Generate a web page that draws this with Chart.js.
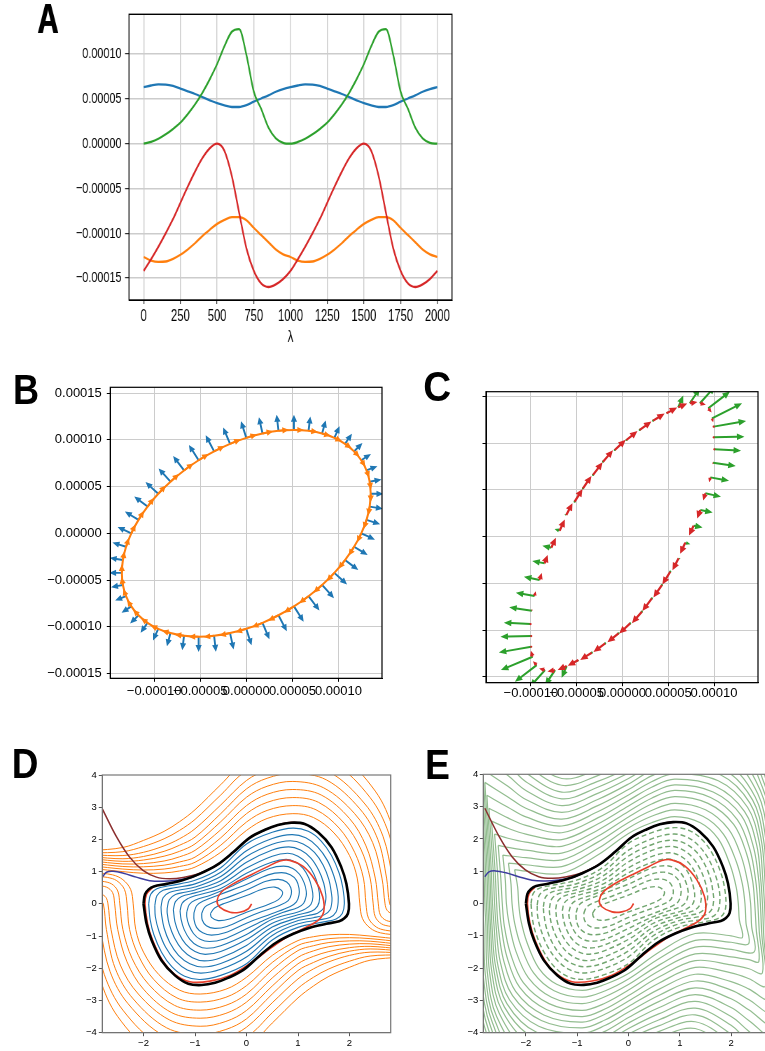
<!DOCTYPE html>
<html>
<head>
<meta charset="utf-8">
<script src="https://cdn.jsdelivr.net/npm/chart.js@4.4.1/dist/chart.umd.min.js"></script>
<style>
html, body { margin: 0; padding: 0; background: #fff; }
body { width: 765px; height: 1051px; overflow: hidden; position: relative; }
canvas { position: absolute; }
#cA { left: 0; top: 0; transform: scaleX(0.7); transform-origin: 0 0; }
#cB { left: 0; top: 360px; }
#cC { left: 380px; top: 360px; }
#cD { left: 0; top: 730px; }
#cE { left: 400px; top: 730px; }
</style>
</head>
<body>
<canvas id="cA" width="1093" height="360"></canvas>
<canvas id="cB" width="400" height="340"></canvas>
<canvas id="cC" width="385" height="340"></canvas>
<canvas id="cD" width="400" height="321"></canvas>
<canvas id="cE" width="420" height="321"></canvas>
<script>
// ---------- panel A : values in units of 1e-5 ----------
const lambdaVals = [0,50,100,150,200,250,300,350,400,450,500,550,600,650,700,750,800,850,900,950,1000,
  1050,1100,1150,1200,1250,1300,1350,1400,1450,1500,1550,1600,1650,1700,1750,1800,1850,1900,1950,2000];
const aBlue = [6.32,6.5,6.62,6.6,6.45,6.15,5.85,5.55,5.2,4.85,4.52,4.28,4.1,4.1,4.3,4.7,5.05,5.4,5.8,6.1,6.32,
  6.5,6.62,6.6,6.45,6.15,5.85,5.55,5.2,4.85,4.52,4.28,4.1,4.1,4.3,4.7,5.05,5.4,5.8,6.1,6.32];
const aGreen = [0,0.2,0.55,1.05,1.65,2.35,3.3,4.4,5.7,7.2,8.9,10.9,12.5,12.8,9.9,5.8,3.9,1.8,0.6,0.1,0,
  0.2,0.55,1.05,1.65,2.35,3.3,4.4,5.7,7.2,8.9,10.9,12.5,12.8,9.9,5.8,3.9,1.8,0.6,0.1,0];
const aRed = [-14.2,-12.9,-11.5,-10.0,-8.4,-6.6,-4.8,-3.1,-1.6,-0.5,0,-0.8,-3.6,-7.7,-11.7,-14.2,-15.6,-16.0,-15.7,-15.1,-14.2,
  -12.9,-11.5,-10.0,-8.4,-6.6,-4.8,-3.1,-1.6,-0.5,0,-0.8,-3.6,-7.7,-11.7,-14.2,-15.6,-16.0,-15.7,-15.1,-14.2];
const aOrange = [-12.65,-13.05,-13.2,-13.15,-12.85,-12.4,-11.8,-11.1,-10.3,-9.6,-8.95,-8.5,-8.2,-8.2,-8.55,-9.4,-10.2,-11.0,-11.8,-12.35,-12.65,
  -13.05,-13.2,-13.15,-12.85,-12.4,-11.8,-11.1,-10.3,-9.6,-8.95,-8.5,-8.2,-8.2,-8.55,-9.4,-10.2,-11.0,-11.8,-12.35,-12.65];
const aXTicks = [0,250,500,750,1000,1250,1500,1750,2000];
const aYTicks = [-15,-10,-5,0,5,10];

// ---------- panels B, C : units of 1e-5 ----------
const bcTicksX = [-10,-5,0,5,10];
const bcTicksY = [-15,-10,-5,0,5,10,15];
const ellX = [13.5,13.38,13.04,12.47,11.69,10.71,9.55,8.22,6.75,5.17,3.49,1.76,0,-1.76,-3.49,-5.17,-6.75,-8.22,-9.55,-10.71,-11.69,-12.47,-13.04,-13.38,
  -13.5,-13.38,-13.04,-12.47,-11.69,-10.71,-9.55,-8.22,-6.75,-5.17,-3.49,-1.76,0,1.76,3.49,5.17,6.75,8.22,9.55,10.71,11.69,12.47,13.04,13.38];
const ellY = [4.23,2.86,1.44,0,-1.44,-2.86,-4.23,-5.53,-6.73,-7.82,-8.77,-9.58,-10.22,-10.68,-10.97,-11.06,-10.97,-10.68,-10.22,-9.58,-8.77,-7.82,-6.73,-5.53,
  -4.23,-2.86,-1.44,0,1.44,2.86,4.23,5.53,6.73,7.82,8.77,9.58,10.22,10.68,10.97,11.06,10.97,10.68,10.22,9.58,8.77,7.82,6.73,5.53];

const cTailX = [9.78,9.96,9.96,10.03,9.89,9.6,9.05,8.5,7.77,6.86,6.13,5.22,4.31,3.21,2.12,0.84,-0.43,-1.89,-3.35,-4.81,-6.09,-7.36,-8.46,-9.37,
  -9.81,-9.96,-9.96,-10.03,-9.89,-9.6,-9.05,-8.5,-7.77,-6.86,-6.13,-5.22,-4.31,-3.21,-2.12,-0.84,0.43,1.89,3.35,4.81,6.09,7.36,8.46,9.37];
const cTailY = [12.67,11.78,10.64,9.35,7.92,6.35,4.64,2.85,1.18,-0.64,-2.32,-3.75,-5.18,-6.61,-8.03,-9.28,-10.35,-11.43,-12.42,-13.21,-13.85,-14.28,-14.28,-13.75,
  -12.85,-11.78,-10.64,-9.35,-7.92,-6.35,-4.64,-2.85,-1.18,0.64,2.32,3.75,5.18,6.61,8.03,9.28,10.35,11.43,12.42,13.21,13.85,14.28,14.28,13.75];
const cGreenX = [3.28,3.54,3.36,2.92,2.48,2.04,1.71,1.35,0.98,0.55,0.22,0.07,0,0,0,0,0,0,0,-0.18,-0.55,-1.09,-1.64,-2.37,
  -3.46,-3.54,-3.36,-2.92,-2.48,-2.04,-1.71,-1.35,-0.98,-0.55,-0.22,-0.07,0,0,0,0,0,0,0,0.18,0.55,1.09,1.64,2.37];
const cGreenY = [1.61,0.61,0.07,-0.14,-0.36,-0.36,-0.36,-0.25,-0.21,-0.18,-0.07,0,0,0,0,0,0,0,0,-0.18,-1.25,-1.61,-1.79,-1.79,
  -1.43,-0.61,-0.07,0.14,0.36,0.36,0.36,0.25,0.21,0.18,0.07,0,0,0,0,0,0,0,0,0.18,1.25,1.61,1.79,1.79];
const cRedLen = [0.4,0.11,0.11,0.11,0.16,0.47,0.7,0.85,1.04,1.17,1.27,1.42,1.42,1.5,1.44,1.42,1.35,1.37,1.29,1.15,0.93,0.73,0.58,0.51,
  0.58,0.11,0.11,0.11,0.16,0.47,0.7,0.85,1.04,1.17,1.27,1.42,1.42,1.5,1.44,1.42,1.35,1.37,1.29,1.15,0.93,0.73,0.58,0.51];

// ---------- panels D, E ----------
const deTicksX = [-2,-1,0,1,2];
const deTicksY = [-4,-3,-2,-1,0,1,2,3,4];
const limitCycle = [-2.0,0.0,-1.97,0.3,-1.9,0.45,-1.8,0.54,-1.55,0.62,-1.23,0.74,-0.91,0.93,-0.58,1.2,-0.26,1.6,0.06,2.05,0.36,2.3,0.61,2.45,0.87,2.52,
  1.13,2.48,1.39,2.22,1.65,1.76,1.84,1.14,1.94,0.62,1.99,0.0,1.97,-0.3,1.9,-0.45,1.8,-0.54,1.55,-0.62,1.23,-0.74,0.91,-0.93,0.58,-1.2,0.26,-1.6,
  -0.06,-2.05,-0.36,-2.3,-0.61,-2.45,-0.87,-2.52,-1.13,-2.48,-1.39,-2.22,-1.65,-1.76,-1.84,-1.14,-1.94,-0.62,-2.0,0.0];
const spiralTraj = [0.1,0,0.03,-0.16,-0.13,-0.26,-0.32,-0.26,-0.52,-0.1,-0.57,0.1,-0.49,0.36,-0.26,0.62,0.06,0.88,0.39,1.14,0.65,1.33,0.84,1.35,
  1.1,1.16,1.33,0.74,1.48,0.22,1.5,-0.25,1.4,-0.5,1.17,-0.72,0.84,-0.98,0.45,-1.4,0.06,-1.86,-0.32,-2.22,-0.71,-2.4,-1.1,-2.42,-1.4,-2.18,
  -1.63,-1.76,-1.82,-1.14,-1.92,-0.62,-1.97,0,-1.94,0.3,-1.83,0.5];
const brownTraj = [-2.8,2.95,-2.52,2.07,-2.27,1.45,-2.01,1.04,-1.75,0.83,-1.49,0.78,-1.23,0.82,-0.91,0.95,-0.58,1.2,-0.26,1.6,0.06,2.05,0.36,2.3,0.61,2.45,0.87,2.53,1.13,2.49];
const navyTraj = [-2.8,0.83,-2.72,0.98,-2.59,1.01,-2.39,0.95,-2.14,0.83,-1.88,0.72,-1.62,0.7,-1.36,0.73,-1.1,0.8,-0.91,0.93,-0.58,1.19];

// inner level curves (blue in D, dashed in E)
const innerLevels = [
  [-1.9,0,-1.86,0.3,-1.74,0.47,-1.5,0.56,-1.0,0.73,-0.5,1.12,0,1.86,0.5,2.22,0.9,2.35,1.2,2.25,1.45,1.95,1.65,1.5,1.8,0.95,1.87,0.5,1.9,0,
   1.86,-0.3,1.74,-0.47,1.5,-0.56,1.0,-0.73,0.5,-1.12,0,-1.86,-0.5,-2.22,-0.9,-2.35,-1.2,-2.25,-1.45,-1.95,-1.65,-1.5,-1.8,-0.95,-1.87,-0.5,-1.9,0],
  [-1.78,-0.05,-1.74,0.25,-1.62,0.42,-1.4,0.5,-1.0,0.62,-0.5,0.98,0,1.65,0.5,2.03,0.88,2.15,1.15,2.05,1.38,1.77,1.57,1.35,1.7,0.85,1.77,0.4,1.78,0.05,
   1.74,-0.25,1.62,-0.42,1.4,-0.5,1.0,-0.62,0.5,-0.98,0,-1.65,-0.5,-2.03,-0.88,-2.15,-1.15,-2.05,-1.38,-1.77,-1.57,-1.35,-1.7,-0.85,-1.77,-0.4,-1.78,-0.05],
  [-1.66,-0.1,-1.62,0.19,-1.5,0.35,-1.3,0.43,-1.0,0.52,-0.5,0.85,0,1.47,0.5,1.85,0.85,1.96,1.1,1.86,1.32,1.6,1.49,1.2,1.6,0.75,1.65,0.32,1.66,0.1,
   1.62,-0.19,1.5,-0.35,1.3,-0.43,1.0,-0.52,0.5,-0.85,0,-1.47,-0.5,-1.85,-0.85,-1.96,-1.1,-1.86,-1.32,-1.6,-1.49,-1.2,-1.6,-0.75,-1.65,-0.32,-1.66,-0.1],
  [-1.54,-0.14,-1.5,0.13,-1.38,0.29,-1.2,0.36,-1.0,0.43,-0.5,0.72,0,1.29,0.5,1.67,0.82,1.77,1.05,1.67,1.25,1.42,1.4,1.05,1.5,0.64,1.54,0.28,1.54,0.14,
   1.5,-0.13,1.38,-0.29,1.2,-0.36,1.0,-0.43,0.5,-0.72,0,-1.29,-0.5,-1.67,-0.82,-1.77,-1.05,-1.67,-1.25,-1.42,-1.4,-1.05,-1.5,-0.64,-1.54,-0.28,-1.54,-0.14],
  [-1.42,-0.18,-1.38,0.07,-1.26,0.23,-1.0,0.34,-0.5,0.6,0,1.11,0.5,1.48,0.8,1.57,1.0,1.48,1.18,1.25,1.31,0.92,1.39,0.55,1.42,0.18,
   1.38,-0.07,1.26,-0.23,1.0,-0.34,0.5,-0.6,0,-1.11,-0.5,-1.48,-0.8,-1.57,-1.0,-1.48,-1.18,-1.25,-1.31,-0.92,-1.39,-0.55,-1.42,-0.18],
  [-1.29,-0.22,-1.25,0.02,-1.13,0.17,-1.0,0.25,-0.5,0.48,0,0.95,0.5,1.3,0.77,1.38,0.95,1.3,1.1,1.1,1.21,0.8,1.27,0.48,1.29,0.22,
   1.25,-0.02,1.13,-0.17,1.0,-0.25,0.5,-0.48,0,-0.95,-0.5,-1.3,-0.77,-1.38,-0.95,-1.3,-1.1,-1.1,-1.21,-0.8,-1.27,-0.48,-1.29,-0.22],
  [-1.16,-0.25,-1.11,-0.02,-1.0,0.11,-0.7,0.27,-0.35,0.5,0,0.77,0.45,1.1,0.72,1.17,0.9,1.1,1.03,0.92,1.12,0.65,1.16,0.4,1.16,0.25,
   1.11,0.02,1.0,-0.11,0.7,-0.27,0.35,-0.5,0,-0.77,-0.45,-1.1,-0.72,-1.17,-0.9,-1.1,-1.03,-0.92,-1.12,-0.65,-1.16,-0.4,-1.16,-0.25],
  [-1.02,-0.28,-0.97,-0.06,-0.85,0.08,-0.5,0.3,0,0.6,0.42,0.9,0.68,0.97,0.85,0.9,0.97,0.73,1.02,0.48,1.02,0.28,
   0.97,0.06,0.85,-0.08,0.5,-0.3,0,-0.6,-0.42,-0.9,-0.68,-0.97,-0.85,-0.9,-0.97,-0.73,-1.02,-0.48,-1.02,-0.28],
  [-0.87,-0.3,-0.81,-0.1,-0.65,0.04,-0.3,0.24,0,0.43,0.38,0.7,0.62,0.76,0.78,0.68,0.86,0.5,0.87,0.3,
   0.81,0.1,0.65,-0.04,0.3,-0.24,0,-0.43,-0.38,-0.7,-0.62,-0.76,-0.78,-0.68,-0.86,-0.5,-0.87,-0.3],
  [-0.7,-0.3,-0.62,-0.13,-0.42,0.02,0,0.26,0.33,0.47,0.55,0.52,0.68,0.42,0.7,0.3,
   0.62,0.13,0.42,-0.02,0,-0.26,-0.33,-0.47,-0.55,-0.52,-0.68,-0.42,-0.7,-0.3]
];

// outer level curves of D (orange), upper and lower parts
const dOuterLevels = [
  [-3,1.1,-2.4,1.0,-2.0,0.95,-1.6,0.96,-1.3,1.02,-1.0,1.14,-0.5,1.6,0,2.28,0.4,2.65,0.9,2.8,1.3,2.68,1.7,2.2,2.0,1.5,2.15,0.8,2.2,0,2.25,-0.45,2.4,-0.75,2.6,-0.9,3,-0.98],
  [3,-1.1,2.4,-1.0,2.0,-0.95,1.6,-0.96,1.3,-1.02,1.0,-1.14,0.5,-1.6,0,-2.28,-0.4,-2.65,-0.9,-2.8,-1.3,-2.68,-1.7,-2.2,-2.0,-1.5,-2.15,-0.8,-2.2,0,-2.25,0.45,-2.4,0.75,-2.6,0.9,-3,0.98],
  [-3,1.18,-2.4,1.08,-2.0,1.05,-1.6,1.08,-1.3,1.16,-1.0,1.29,-0.5,1.82,0,2.54,0.4,2.9,0.9,3.05,1.35,2.92,1.8,2.35,2.1,1.6,2.27,0.8,2.32,0,2.37,-0.45,2.52,-0.72,2.7,-0.82,3,-0.88],
  [3,-1.18,2.4,-1.08,2.0,-1.05,1.6,-1.08,1.3,-1.16,1.0,-1.29,0.5,-1.82,0,-2.54,-0.4,-2.9,-0.9,-3.05,-1.35,-2.92,-1.8,-2.35,-2.1,-1.6,-2.27,-0.8,-2.32,0,-2.37,0.45,-2.52,0.72,-2.7,0.82,-3,0.88],
  [-3,1.26,-2.4,1.16,-2.0,1.15,-1.6,1.2,-1.3,1.3,-1.0,1.45,-0.5,2.05,0,2.8,0.4,3.15,0.9,3.3,1.4,3.15,1.9,2.5,2.22,1.7,2.4,0.8,2.46,0,2.5,-0.4,2.62,-0.62,2.8,-0.7,3,-0.73],
  [3,-1.26,2.4,-1.16,2.0,-1.15,1.6,-1.2,1.3,-1.3,1.0,-1.45,0.5,-2.05,0,-2.8,-0.4,-3.15,-0.9,-3.3,-1.4,-3.15,-1.9,-2.5,-2.22,-1.7,-2.4,-0.8,-2.46,0,-2.5,0.4,-2.62,0.62,-2.8,0.7,-3,0.73],
  [-3,1.33,-2.4,1.24,-2.0,1.25,-1.6,1.33,-1.3,1.46,-1.0,1.66,-0.5,2.3,0,3.05,0.4,3.4,0.9,3.55,1.45,3.38,2.0,2.65,2.32,1.8,2.5,0.8,2.56,0,2.6,-0.35,2.72,-0.52,2.9,-0.56,3.1,-0.57],
  [3,-1.33,2.4,-1.24,2.0,-1.25,1.6,-1.33,1.3,-1.46,1.0,-1.66,0.5,-2.3,0,-3.05,-0.4,-3.4,-0.9,-3.55,-1.45,-3.38,-2.0,-2.65,-2.32,-1.8,-2.5,-0.8,-2.56,0,-2.6,0.35,-2.72,0.52,-2.9,0.56,-3.1,0.57],
  [-3,1.4,-2.4,1.32,-2.0,1.36,-1.6,1.48,-1.3,1.63,-1.0,1.86,-0.5,2.55,0,3.31,0.4,3.65,0.9,3.8,1.5,3.6,2.1,2.8,2.45,1.9,2.63,0.8,2.69,0,2.73,-0.2,2.82,-0.3,3.0,-0.33],
  [3,-1.4,2.4,-1.32,2.0,-1.36,1.6,-1.48,1.3,-1.63,1.0,-1.86,0.5,-2.55,0,-3.31,-0.4,-3.65,-0.9,-3.8,-1.5,-3.6,-2.1,-2.8,-2.45,-1.9,-2.63,-0.8,-2.69,0,-2.73,0.2,-2.82,0.3,-3.0,0.33],
  [-3,1.46,-2.4,1.4,-2.0,1.47,-1.6,1.63,-1.3,1.82,-1.0,2.07,-0.5,2.8,0,3.57,0.4,3.9,0.9,4.05,1.55,3.85,2.2,2.95,2.55,2.0,2.72,0.8,2.78,0,2.85,-0.1,3.0,-0.15],
  [3,-1.46,2.4,-1.4,2.0,-1.47,1.6,-1.63,1.3,-1.82,1.0,-2.07,0.5,-2.8,0,-3.57,-0.4,-3.9,-0.9,-4.05,-1.55,-3.85,-2.2,-2.95,-2.55,-2.0,-2.72,-0.8,-2.78,0,-2.85,0.1,-3.0,0.15],
  [-3,1.52,-2.4,1.5,-2.0,1.6,-1.6,1.8,-1.3,2.02,-1.0,2.33,-0.5,3.07,0,3.83,0.4,4.15,0.9,4.3,1.6,4.1,2.3,3.1,2.65,2.1,2.84,0.8,2.95,0,3.1,-0.2],
  [3,-1.52,2.4,-1.5,2.0,-1.6,1.6,-1.8,1.3,-2.02,1.0,-2.33,0.5,-3.07,0,-3.83,-0.4,-4.15,-0.9,-4.3,-1.6,-4.1,-2.3,-3.1,-2.65,-2.1,-2.84,-0.8,-2.95,0,-3.1,0.2],
  [-3,1.58,-2.4,1.62,-2.0,1.78,-1.6,2.02,-1.3,2.28,-1.0,2.62,-0.5,3.38,0,4.12,0.9,4.6,1.7,4.35,2.4,3.3,2.76,2.2,2.96,0.8,3.05,0],
  [3,-1.58,2.4,-1.62,2.0,-1.78,1.6,-2.02,1.3,-2.28,1.0,-2.62,0.5,-3.38,0,-4.12,-0.9,-4.6,-1.7,-4.35,-2.4,-3.3,-2.76,-2.2,-2.96,-0.8,-3.05,0],
  [-3,1.65,-2.4,1.75,-2.0,1.97,-1.6,2.25,-1.3,2.55,-1.0,2.92,-0.5,3.7,0,4.45,0.9,4.9,1.8,4.6,2.5,3.5,2.85,2.3,3.05,0.8],
  [3,-1.65,2.4,-1.75,2.0,-1.97,1.6,-2.25,1.3,-2.55,1.0,-2.92,0.5,-3.7,0,-4.45,-0.9,-4.9,-1.8,-4.6,-2.5,-3.5,-2.85,-2.3,-3.05,-0.8]
];

// outer level curves of E (solid green), closed loops
const eOuterLevels = [
  [-2.22,1.05,-2.0,1.0,-1.3,0.93,-0.6,1.5,0,2.17,0.45,2.5,0.9,2.69,1.4,2.5,1.75,2.0,1.98,1.2,2.1,0.5,2.14,0,2.16,-0.5,2.22,-1.05,
   2.0,-1.0,1.3,-0.93,0.6,-1.5,0,-2.17,-0.45,-2.5,-0.9,-2.69,-1.4,-2.5,-1.75,-2.0,-1.98,-1.2,-2.1,-0.5,-2.14,0,-2.16,0.5,-2.22,1.05],
  [-2.34,1.25,-2.0,1.2,-1.3,1.14,-0.6,1.7,0,2.34,0.45,2.7,0.9,2.9,1.45,2.7,1.85,2.15,2.1,1.3,2.22,0.6,2.27,0,2.29,-0.6,2.34,-1.25,
   2.0,-1.2,1.3,-1.14,0.6,-1.7,0,-2.34,-0.45,-2.7,-0.9,-2.9,-1.45,-2.7,-1.85,-2.15,-2.1,-1.3,-2.22,-0.6,-2.27,0,-2.29,0.6,-2.34,1.25],
  [-2.45,1.5,-2.0,1.42,-1.3,1.35,-0.6,1.9,0,2.51,0.45,2.88,0.9,3.1,1.5,2.9,1.95,2.3,2.2,1.45,2.33,0.6,2.38,0,2.4,-0.7,2.45,-1.5,
   2.0,-1.42,1.3,-1.35,0.6,-1.9,0,-2.51,-0.45,-2.88,-0.9,-3.1,-1.5,-2.9,-1.95,-2.3,-2.2,-1.45,-2.33,-0.6,-2.38,0,-2.4,0.7,-2.45,1.5],
  [-2.54,1.8,-2.35,1.74,-2.0,1.65,-1.3,1.56,-0.6,2.08,0,2.68,0.45,3.08,0.9,3.31,1.55,3.1,2.05,2.45,2.3,1.55,2.42,0.7,2.46,0,2.49,-0.8,2.54,-1.8,
   2.35,-1.74,2.0,-1.65,1.3,-1.56,0.6,-2.08,0,-2.68,-0.45,-3.08,-0.9,-3.31,-1.55,-3.1,-2.05,-2.45,-2.3,-1.55,-2.42,-0.7,-2.46,0,-2.49,0.8,-2.54,1.8],
  [-2.61,2.15,-2.35,2.02,-2.0,1.9,-1.3,1.77,-0.6,2.27,0,2.85,0.45,3.26,0.9,3.5,1.6,3.28,2.12,2.6,2.37,1.65,2.48,0.7,2.52,0,2.55,-0.9,2.61,-2.15,
   2.35,-2.02,2.0,-1.9,1.3,-1.77,0.6,-2.27,0,-2.85,-0.45,-3.26,-0.9,-3.5,-1.6,-3.28,-2.12,-2.6,-2.37,-1.65,-2.48,-0.7,-2.52,0,-2.55,0.9,-2.61,2.15],
  [-2.67,2.55,-2.35,2.33,-2.0,2.15,-1.3,1.98,-0.6,2.46,0,3.02,0.45,3.42,0.9,3.67,1.65,3.45,2.2,2.72,2.44,1.72,2.54,0.7,2.57,0,2.6,-1.0,2.67,-2.55,
   2.35,-2.33,2.0,-2.15,1.3,-1.98,0.6,-2.46,0,-3.02,-0.45,-3.42,-0.9,-3.67,-1.65,-3.45,-2.2,-2.72,-2.44,-1.72,-2.54,-0.7,-2.57,0,-2.6,1.0,-2.67,2.55],
  [-2.72,2.95,-2.35,2.65,-2.0,2.42,-1.3,2.19,-0.6,2.65,0,3.19,0.45,3.6,0.9,3.85,1.7,3.62,2.26,2.85,2.5,1.8,2.58,0.7,2.61,0,2.64,-1.1,2.72,-2.95,
   2.35,-2.65,2.0,-2.42,1.3,-2.19,0.6,-2.65,0,-3.19,-0.45,-3.6,-0.9,-3.85,-1.7,-3.62,-2.26,-2.85,-2.5,-1.8,-2.58,-0.7,-2.61,0,-2.64,1.1,-2.72,2.95],
  [-2.76,3.35,-2.35,2.98,-2.0,2.68,-1.3,2.4,-0.6,2.84,0,3.36,0.45,3.77,0.9,4.02,1.75,3.8,2.32,2.98,2.55,1.88,2.62,0.7,2.65,0,2.68,-1.2,2.76,-3.35,
   2.35,-2.98,2.0,-2.68,1.3,-2.4,0.6,-2.84,0,-3.36,-0.45,-3.77,-0.9,-4.02,-1.75,-3.8,-2.32,-2.98,-2.55,-1.88,-2.62,-0.7,-2.65,0,-2.68,1.2,-2.76,3.35],
  [-2.8,3.75,-2.35,3.3,-2.0,2.95,-1.3,2.61,-0.6,3.03,0,3.53,0.45,3.95,0.9,4.2,1.8,3.98,2.37,3.1,2.59,1.95,2.66,0.7,2.68,0,2.71,-1.3,2.8,-3.75,
   2.35,-3.3,2.0,-2.95,1.3,-2.61,0.6,-3.03,0,-3.53,-0.45,-3.95,-0.9,-4.2,-1.8,-3.98,-2.37,-3.1,-2.59,-1.95,-2.66,-0.7,-2.68,0,-2.71,1.3,-2.8,3.75],
  [-2.84,4.15,-2.35,3.63,-2.0,3.22,-1.3,2.82,-0.6,3.22,0,3.7,0.45,4.13,0.9,4.4,1.85,4.15,2.42,3.2,2.63,2.0,2.69,0.7,2.71,0,2.74,-1.4,2.84,-4.15,
   2.35,-3.63,2.0,-3.22,1.3,-2.82,0.6,-3.22,0,-3.7,-0.45,-4.13,-0.9,-4.4,-1.85,-4.15,-2.42,-3.2,-2.63,-2.0,-2.69,-0.7,-2.71,0,-2.74,1.4,-2.84,4.15],
  [-2.88,4.55,-2.35,3.96,-2.0,3.5,-1.3,3.03,-0.6,3.41,0,3.87,0.45,4.3,0.9,4.6,1.9,4.35,2.47,3.3,2.67,2.05,2.72,0.7,2.74,0,2.77,-1.5,2.88,-4.55,
   2.35,-3.96,2.0,-3.5,1.3,-3.03,0.6,-3.41,0,-3.87,-0.45,-4.3,-0.9,-4.6,-1.9,-4.35,-2.47,-3.3,-2.67,-2.05,-2.72,-0.7,-2.74,0,-2.77,1.5,-2.88,4.55],
  [-2.92,4.95,-2.35,4.3,-2.0,3.77,-1.3,3.24,-0.6,3.6,0,4.04,0.9,4.8,1.95,4.55,2.52,3.4,2.71,2.1,2.75,0.7,2.77,0,2.8,-1.6,2.92,-4.95,
   2.35,-4.3,2.0,-3.77,1.3,-3.24,0.6,-3.6,0,-4.04,-0.9,-4.8,-1.95,-4.55,-2.52,-3.4,-2.71,-2.1,-2.75,-0.7,-2.77,0,-2.8,1.6,-2.92,4.95],
  [-2.96,5.35,-2.35,4.62,-2.0,4.05,-1.3,3.45,-0.6,3.78,0,4.2,0.9,5.0,2.0,4.75,2.57,3.5,2.75,2.15,2.78,0.7,2.8,0,2.83,-1.7,2.96,-5.35,
   2.35,-4.62,2.0,-4.05,1.3,-3.45,0.6,-3.78,0,-4.2,-0.9,-5.0,-2.0,-4.75,-2.57,-3.5,-2.75,-2.15,-2.78,-0.7,-2.8,0,-2.83,1.7,-2.96,5.35],
  [-3.0,5.75,-2.35,4.95,-2.0,4.32,-1.3,3.66,-0.6,3.96,0,4.4,2.05,4.95,2.61,3.6,2.79,2.2,2.82,0.7,2.84,0,2.87,-1.8,3.0,-5.75,
   2.35,-4.95,2.0,-4.32,1.3,-3.66,0.6,-3.96,0,-4.4,-2.05,-4.95,-2.61,-3.6,-2.79,-2.2,-2.82,-0.7,-2.84,0,-2.87,1.8,-3.0,5.75],
  [-3.04,6.15,-2.35,5.3,-2.0,4.6,-1.3,3.87,-0.6,4.15,0,4.6,2.1,5.15,2.65,3.7,2.83,2.25,2.86,0.7,2.88,0,2.91,-1.9,3.04,-6.15,
   2.35,-5.3,2.0,-4.6,1.3,-3.87,0.6,-4.15,0,-4.6,-2.1,-5.15,-2.65,-3.7,-2.83,-2.25,-2.86,-0.7,-2.88,0,-2.91,1.9,-3.04,6.15],
  [-3.08,6.55,-2.35,5.65,-2.0,4.9,-1.3,4.08,0,4.8,2.15,5.35,2.69,3.8,2.87,2.3,2.9,0.7,2.92,0,2.95,-2.0,3.08,-6.55,
   2.35,-5.65,2.0,-4.9,1.3,-4.08,0,-4.8,-2.15,-5.35,-2.69,-3.8,-2.87,-2.3,-2.9,-0.7,-2.92,0,-2.95,2.0,-3.08,6.55],
  [-3.12,6.95,-2.0,5.2,-1.3,4.3,0,5.0,2.2,5.55,2.73,3.9,2.91,2.35,2.94,0.7,2.96,0,2.99,-2.1,3.12,-6.95,
   2.0,-5.2,1.3,-4.3,0,-5.0,-2.2,-5.55,-2.73,-3.9,-2.91,-2.35,-2.94,-0.7,-2.96,0,-2.99,2.1,-3.12,6.95],
  [-3.16,7.35,-2.0,5.5,-1.3,4.5,0,5.2,2.25,5.75,2.77,4.0,2.95,2.4,2.98,0.7,3.0,0,3.03,-2.2,3.16,-7.35,
   2.0,-5.5,1.3,-4.5,0,-5.2,-2.25,-5.75,-2.77,-4.0,-2.95,-2.4,-2.98,-0.7,-3.0,0,-3.03,2.2,-3.16,7.35]
];

const FONT = '"Liberation Sans", Arial, Helvetica, sans-serif';
const GRID = '#cccccc';

function pts(flat) {
  const out = [];
  for (let i = 0; i < flat.length; i += 2) out.push({ x: flat[i], y: flat[i + 1] });
  return out;
}
function curve(flat, color, width, dash) {
  return { data: pts(flat), showLine: true, borderColor: color, borderWidth: width,
    borderDash: dash || [], pointRadius: 0, tension: 0.35, fill: false };
}
const fmt5 = v => (v * 1e-5).toFixed(5).replace('-', '\u2212');
const fmtInt = v => String(v).replace('-', '\u2212');

function axis(o) {
  return {
    type: 'linear', position: o.pos, min: o.min, max: o.max,
    afterBuildTicks: s => { s.ticks = o.ticks.map(v => ({ value: v })); },
    afterFit: s => { if (o.pos === 'left') s.width = o.size; else s.height = o.size; },
    grid: { drawOnChartArea: !!o.grid, color: GRID, lineWidth: o.gridW || 1,
      drawTicks: true, tickLength: o.tl, tickColor: o.tc || '#000', tickWidth: 1 },
    border: { display: true, color: o.tc || '#000', width: 1 },
    ticks: { autoSkip: false, maxRotation: 0, minRotation: 0, padding: o.pad, color: '#000',
      font: { family: FONT, size: o.fs }, callback: o.fmt }
  };
}

function arrow(ctx, x0, y0, dx, dy, color, sw, hw, hl) {
  const L = Math.hypot(dx, dy);
  ctx.fillStyle = color;
  if (L < 1.5) {
    ctx.beginPath(); ctx.arc(x0, y0, 1.1, 0, Math.PI * 2); ctx.fill(); return;
  }
  const ux = dx / L, uy = dy / L, px = -uy, py = ux;
  const k = Math.min(1, L / (hl * 1.2));
  const h = hl * k, w = hw * k, s = sw * Math.max(k, 0.6);
  const bx = x0 + ux * (L - h), by = y0 + uy * (L - h);
  ctx.beginPath();
  ctx.moveTo(x0 + px * s / 2, y0 + py * s / 2);
  ctx.lineTo(bx + px * s / 2, by + py * s / 2);
  ctx.lineTo(bx + px * w / 2, by + py * w / 2);
  ctx.lineTo(x0 + dx, y0 + dy);
  ctx.lineTo(bx - px * w / 2, by - py * w / 2);
  ctx.lineTo(bx - px * s / 2, by - py * s / 2);
  ctx.lineTo(x0 - px * s / 2, y0 - py * s / 2);
  ctx.closePath();
  ctx.fill();
}

function deco(cfg) {
  return {
    id: 'deco',
    beforeDatasetsDraw(chart) { if (cfg.under) cfg.under(chart); },
    afterDatasetsDraw(chart) { if (cfg.over) cfg.over(chart); },
    afterDraw(chart) {
      const a = chart.chartArea, ctx = chart.ctx;
      ctx.save();
      ctx.strokeStyle = cfg.spine; ctx.lineWidth = cfg.spineW;
      ctx.strokeRect(a.left, a.top, a.right - a.left, a.bottom - a.top);
      ctx.restore();
      ctx.save();
      ctx.fillStyle = '#000';
      ctx.font = 'bold ' + cfg.lsize + 'px ' + FONT;
      ctx.textBaseline = 'alphabetic';
      ctx.translate(cfg.lx, cfg.ly); ctx.scale(cfg.lsx, 1);
      ctx.fillText(cfg.letter, 0, 0);
      if (cfg.bold) { ctx.fillText(cfg.letter, 1, 0); }
      ctx.restore();
      if (cfg.extra) cfg.extra(chart);
    }
  };
}

function clipArea(chart) {
  const a = chart.chartArea, ctx = chart.ctx;
  ctx.save(); ctx.beginPath(); ctx.rect(a.left, a.top, a.right - a.left, a.bottom - a.top); ctx.clip();
}

Chart.defaults.font.family = FONT;
const base = {
  responsive: false, animation: false, events: [],
  elements: { line: { capBezierPoints: false } },
  plugins: { legend: { display: false }, tooltip: { enabled: false } }
};

// ---------- A ----------
function seriesA(vals, color) {
  return { data: lambdaVals.map((x, i) => ({ x: x, y: vals[i] })), showLine: true, borderColor: color,
    borderWidth: 2.3, pointRadius: 0, cubicInterpolationMode: 'monotone', fill: false };
}
new Chart(document.getElementById('cA'), {
  type: 'scatter',
  data: { datasets: [seriesA(aRed, '#d62728'), seriesA(aOrange, '#ff7f0e'), seriesA(aGreen, '#2ca02c'), seriesA(aBlue, '#1f77b4')] },
  options: Object.assign({}, base, {
    layout: { padding: { left: 0, top: 12.3, right: 447.3, bottom: 0 } },
    scales: {
      x: axis({ pos: 'bottom', min: -100, max: 2100, ticks: aXTicks, size: 60, grid: true, gridW: 1.4, tl: 4, pad: 3, fs: 16, fmt: v => String(v) }),
      y: axis({ pos: 'left', min: -17.45, max: 14.45, ticks: aYTicks, size: 184.3, grid: true, gridW: 1.4, tl: 5.7, pad: 5, fs: 15.5, fmt: fmt5 })
    }
  }),
  plugins: [deco({ spine: '#000', spineW: 1.4, letter: 'A', lsize: 42, lx: 52.9, ly: 33, lsx: 1, bold: true,
    extra(chart) {
      const ctx = chart.ctx, a = chart.chartArea;
      ctx.save(); ctx.fillStyle = '#000'; ctx.font = '16px ' + FONT;
      ctx.textAlign = 'center'; ctx.textBaseline = 'middle';
      ctx.fillText('\u03bb', (a.left + a.right) / 2, 338);
      ctx.restore();
    } })]
});

// ---------- B ----------
function ellPixels(chart) {
  const xs = chart.scales.x, ys = chart.scales.y;
  return ellX.map((x, i) => [xs.getPixelForValue(x), ys.getPixelForValue(ellY[i])]);
}
new Chart(document.getElementById('cB'), {
  type: 'scatter',
  data: { datasets: [Object.assign(curve(ellX.flatMap((x, i) => [x, ellY[i]]).concat([ellX[0], ellY[0]]), '#ff7f0e', 2), { tension: 0.3 })] },
  options: Object.assign({}, base, {
    layout: { padding: { left: 0, top: 27.3, right: 18, bottom: 0 } },
    scales: {
      x: axis({ pos: 'bottom', min: -14.75, max: 14.72, ticks: bcTicksX, size: 21.7, grid: true, tl: 3.5, pad: 2, fs: 13, fmt: fmt5 }),
      y: axis({ pos: 'left', min: -15.52, max: 15.63, ticks: bcTicksY, size: 110.3, grid: true, tl: 3.5, pad: 5, fs: 13, fmt: fmt5 })
    }
  }),
  plugins: [deco({ spine: '#000', spineW: 1.2, letter: 'B', lsize: 43, lx: 13, ly: 44.3, lsx: 0.84,
    under(chart) {
      const P = ellPixels(chart), n = P.length, ctx = chart.ctx;
      clipArea(chart);
      for (let i = 0; i < n; i++) {
        const a = P[(i - 1 + n) % n], b = P[(i + 1) % n];
        const tx = (b[0] - a[0]) / 2, ty = (b[1] - a[1]) / 2;
        arrow(ctx, P[i][0], P[i][1], ty * 1.02, -tx * 1.02, '#1f77b4', 1.9, 6.2, 7);
      }
      ctx.restore();
    },
    over(chart) {
      const P = ellPixels(chart), n = P.length, ctx = chart.ctx;
      clipArea(chart);
      for (let i = 0; i < n; i++) {
        const a = P[(i - 1 + n) % n], b = P[(i + 1) % n];
        const tx = (b[0] - a[0]) / 2, ty = (b[1] - a[1]) / 2;
        arrow(ctx, P[i][0], P[i][1], tx * 0.66, ty * 0.66, '#ff7f0e', 1.9, 6.2, 6.5);
      }
      ctx.restore();
    } })]
});

// ---------- C ----------
new Chart(document.getElementById('cC'), {
  type: 'scatter',
  data: { datasets: [] },
  options: Object.assign({}, base, {
    layout: { padding: { left: 0, top: 31.7, right: 7, bottom: 0 } },
    scales: {
      x: axis({ pos: 'bottom', min: -14.9, max: 14.8, ticks: bcTicksX, size: 17.3, grid: true, tl: 3.5, pad: -1, fs: 13, fmt: fmt5 }),
      y: axis({ pos: 'left', min: -15.63, max: 15.52, ticks: bcTicksY, size: 106, grid: true, tl: 3.5, pad: 5, fs: 13, fmt: () => '' })
    }
  }),
  plugins: [deco({ spine: '#000', spineW: 1.2, letter: 'C', lsize: 43, lx: 43.3, ly: 41.2, lsx: 0.9,
    over(chart) {
      const xs = chart.scales.x, ys = chart.scales.y, ctx = chart.ctx, n = cTailX.length;
      const T = cTailX.map((x, i) => [xs.getPixelForValue(x), ys.getPixelForValue(cTailY[i])]);
      const pxUnit = xs.getPixelForValue(1) - xs.getPixelForValue(0);
      clipArea(chart);
      for (let i = 0; i < n; i++) {
        const gx = xs.getPixelForValue(cTailX[i] + cGreenX[i]) - T[i][0];
        const gy = ys.getPixelForValue(cTailY[i] + cGreenY[i]) - T[i][1];
        arrow(ctx, T[i][0], T[i][1], gx, gy, '#2ca02c', 2, 6.5, 7.5);
      }
      for (let i = 0; i < n; i++) {
        const a = T[(i - 1 + n) % n], b = T[(i + 1) % n];
        const dx = b[0] - a[0], dy = b[1] - a[1], d = Math.hypot(dx, dy) || 1;
        const L = cRedLen[i] * pxUnit * 1.15;
        arrow(ctx, T[i][0], T[i][1], dx / d * L, dy / d * L, '#d62728', 2.2, 6.8, 7.5);
      }
      ctx.restore();
    } })]
});

// ---------- D ----------
const dSets = [];
dOuterLevels.forEach(f => dSets.push(curve(f, '#ff7f0e', 1)));
innerLevels.forEach(f => dSets.push(curve(f, '#1f77b4', 1.1)));
dSets.push(curve(spiralTraj, '#e8402c', 1.6));
dSets.push(curve(brownTraj, '#8b2f2f', 1.5));
dSets.push(curve(navyTraj, '#3d3d9e', 1.5));
dSets.push(curve(limitCycle, '#000000', 2.6));
new Chart(document.getElementById('cD'), {
  type: 'scatter',
  data: { datasets: dSets.reverse() },
  options: Object.assign({}, base, {
    layout: { padding: { left: 0, top: 45, right: 9.3, bottom: 0 } },
    scales: {
      x: axis({ pos: 'bottom', min: -2.8, max: 2.8, ticks: deTicksX, size: 18.3, tl: 3.5, tc: '#555', pad: 1, fs: 9.5, fmt: fmtInt }),
      y: axis({ pos: 'left', min: -4, max: 4, ticks: deTicksY, size: 102.3, tl: 3.5, tc: '#555', pad: 2, fs: 9.5, fmt: fmtInt })
    }
  }),
  plugins: [deco({ spine: '#777', spineW: 1.2, letter: 'D', lsize: 42, lx: 11.7, ly: 48.3, lsx: 0.88 })]
});

// ---------- E ----------
const eSets = [];
eOuterLevels.forEach(f => eSets.push(curve(f, '#93bd90', 1.2)));
innerLevels.forEach(f => eSets.push(curve(f, '#72a670', 1.4, [5, 3])));
eSets.push(curve(spiralTraj, '#e8402c', 1.6));
eSets.push(curve(brownTraj, '#8b2f2f', 1.5));
eSets.push(curve(navyTraj, '#3d3d9e', 1.5));
eSets.push(curve(limitCycle, '#000000', 2.6));
new Chart(document.getElementById('cE'), {
  type: 'scatter',
  data: { datasets: eSets.reverse() },
  options: Object.assign({}, base, {
    layout: { padding: { left: 0, top: 44.3, right: 46.3, bottom: 0 } },
    scales: {
      x: axis({ pos: 'bottom', min: -2.83, max: 2.83, ticks: deTicksX, size: 18.3, tl: 3.5, tc: '#555', pad: 1, fs: 9.5, fmt: fmtInt }),
      y: axis({ pos: 'left', min: -4, max: 4, ticks: deTicksY, size: 83.3, tl: 3.5, tc: '#555', pad: 1.5, fs: 9.5, fmt: fmtInt })
    }
  }),
  plugins: [deco({ spine: '#777', spineW: 1.2, letter: 'E', lsize: 42, lx: 25, ly: 49.3, lsx: 0.89 })]
});
</script>
</body>
</html>
